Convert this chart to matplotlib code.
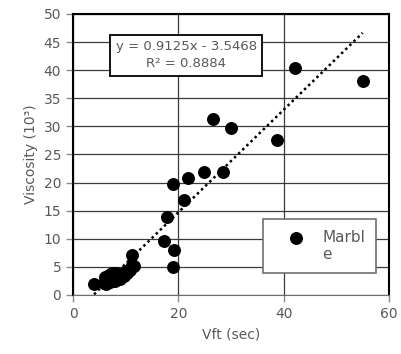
import numpy as np
import matplotlib
matplotlib.use("Agg")
import matplotlib.pyplot as plt

# Marble samples: Vft (sec) vs viscosity (10^3)
vft = [55.0, 42.1, 26.5, 30.0, 38.7, 24.9, 28.4, 21.9, 18.9, 21.1, 17.9,
       17.3, 19.2, 18.9, 11.2, 11.6, 4.0,
       5.8, 6.2, 6.5, 6.8, 6.3, 7.0, 7.2, 7.5, 7.8, 8.0, 8.2, 8.5, 8.8,
       9.0, 9.3, 9.6, 10.0, 10.3, 10.8, 11.2, 6.0, 7.5, 8.0]
visc = [38.1, 40.4, 31.4, 29.8, 27.6, 21.9, 21.8, 20.8, 19.8, 16.9, 13.9,
        9.6, 8.0, 5.0, 7.1, 5.2, 1.9,
        2.2, 2.5, 3.0, 3.5, 2.0, 2.3, 3.8, 2.6, 3.2, 2.5, 4.0, 3.0, 3.5,
        2.8, 3.8, 3.3, 4.2, 4.0, 4.5, 5.3, 3.2, 4.0, 3.8]
slope, intercept, r2 = 0.9125, -3.5468, 0.8884

gray = "#595959"
plt.rcParams["font.family"] = "DejaVu Sans"

fig = plt.figure(figsize=(4.02, 3.54), dpi=100)
ax = fig.add_axes([0.1816, 0.1667, 0.786, 0.7938])

ax.plot(vft, visc, "o", color="black", markersize=8.3, label="Marbl\ne", zorder=3)

xs = np.array([min(vft), max(vft)])
ax.plot(xs, slope * xs + intercept, color="black", linestyle=(0, (1, 1.3)),
        linewidth=1.8, zorder=2)

ax.set_xlim(0, 60)
ax.set_ylim(0, 50)
ax.set_xticks([0, 20, 40, 60])
ax.set_yticks(np.arange(0, 51, 5))
ax.grid(True, color="#3a3a3a", linewidth=0.9)
ax.set_axisbelow(True)
for s in ["left", "top", "right"]:
    ax.spines[s].set_color("black")
    ax.spines[s].set_linewidth(1.5)
ax.spines["bottom"].set_color("#6e6e6e")
ax.tick_params(colors="#8c8c8c", labelcolor=gray, labelsize=10, length=5, width=1)

ax.set_xlabel("Vft (sec)", color=gray, fontsize=10, labelpad=5)
ax.set_ylabel("Viscosity (10³)", color=gray, fontsize=10, labelpad=4)

ax.text(0.358, 0.853, f"y = {slope}x - {abs(intercept)}\nR² = {r2}",
        transform=ax.transAxes, ha="center", va="center", fontsize=9.5,
        color=gray, linespacing=1.4, zorder=5,
        bbox=dict(boxstyle="square,pad=0.4", facecolor="white",
                  edgecolor="black", linewidth=1.3))

leg = ax.legend(loc="upper left", bbox_to_anchor=(0.6, 0.27), borderaxespad=0,
                fontsize=11, frameon=True, fancybox=False, edgecolor="#707070",
                framealpha=1, borderpad=0.7, handlelength=3.0,
                handletextpad=0.2, labelcolor=gray, labelspacing=0.3)
leg.get_frame().set_linewidth(1.2)
h = leg.legend_handles[0]
h.set_ydata(np.asarray(h.get_ydata()) + 6.5)

fig.savefig("out.png", dpi=100)
